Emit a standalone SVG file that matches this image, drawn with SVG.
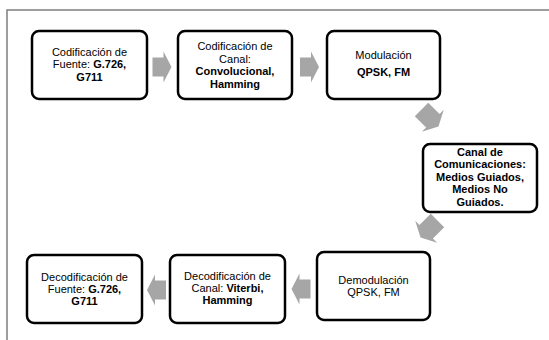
<svg xmlns="http://www.w3.org/2000/svg" width="549" height="340" viewBox="0 0 549 340">
<style>
  .box { fill: #ffffff; stroke: #000000; stroke-width: 2.5; }
  .t { font-family: "Liberation Sans", Arial, sans-serif; font-size: 11px; fill: #000000; text-anchor: middle; }
  .b { font-weight: bold; }
  .arr { fill: #a6a6a6; }
  .frame { fill: none; stroke: #7f7f7f; stroke-width: 1.5; }
</style>
<defs>
  <path id="arrowR" d="M-9.5,-9.5 L1.5,-9.5 L1.5,-15.5 L9.5,0 L1.5,15.5 L1.5,9.5 L-9.5,9.5 Z"/>
  <path id="arrowD" d="M-12,-9.5 L4,-9.5 L4,-15.5 L12,0 L4,15.5 L4,9.5 L-12,9.5 Z"/>
</defs>
<rect x="0" y="0" width="549" height="340" fill="#ffffff"/>
<path class="frame" d="M7,340 L7,10 L549,10"/>

<g id="connectors">
  <use href="#arrowR" class="arr" transform="translate(162,67)"/>
  <use href="#arrowR" class="arr" transform="translate(309.5,67)"/>
  <use href="#arrowD" class="arr" transform="translate(430,118) rotate(45)"/>
  <use href="#arrowD" class="arr" transform="translate(429,229) rotate(135)"/>
  <use href="#arrowR" class="arr" transform="translate(301,289) rotate(180)"/>
  <use href="#arrowR" class="arr" transform="translate(156.5,290) rotate(180)"/>
</g>

<g id="node1">
  <rect class="box" x="32" y="31" width="115" height="68" rx="7"/>
  <text class="t" x="89.5" y="56"><tspan x="89.5">Codificación de</tspan><tspan x="89.5" dy="12.4">Fuente: <tspan class="b">G.726,</tspan></tspan><tspan x="89.5" dy="12.4" class="b">G711</tspan></text>
</g>

<g id="node2">
  <rect class="box" x="178" y="31" width="114" height="68" rx="7"/>
  <text class="t" x="235" y="50.4"><tspan x="235">Codificación de</tspan><tspan x="235" dy="12.4">Canal:</tspan><tspan x="235" dy="12.4" class="b">Convolucional,</tspan><tspan x="235" dy="12.4" class="b">Hamming</tspan></text>
</g>

<g id="node3">
  <rect class="box" x="327" y="31" width="113" height="68" rx="7"/>
  <text class="t" x="383.5" y="59"><tspan x="383.5">Modulación</tspan><tspan x="383.5" dy="16.5" class="b">QPSK, FM</tspan></text>
</g>

<g id="node4">
  <rect class="box" x="423" y="144" width="114" height="68" rx="7"/>
  <text class="t b" x="480" y="156"><tspan x="480">Canal de</tspan><tspan x="480" dy="12.4">Comunicaciones:</tspan><tspan x="480" dy="12.4">Medios Guiados,</tspan><tspan x="480" dy="12.4">Medios No</tspan><tspan x="480" dy="12.4">Guiados.</tspan></text>
</g>

<g id="node5">
  <rect class="box" x="317" y="252" width="113" height="68" rx="7"/>
  <text class="t" x="373.5" y="283.5"><tspan x="373.5">Demodulación</tspan><tspan x="373.5" dy="12.4">QPSK, FM</tspan></text>
</g>

<g id="node6">
  <rect class="box" x="170" y="255" width="115" height="68" rx="7"/>
  <text class="t" x="227.5" y="279.6"><tspan x="227.5">Decodificación de</tspan><tspan x="227.5" dy="12.4">Canal: <tspan class="b">Viterbi,</tspan></tspan><tspan x="227.5" dy="12.4" class="b">Hamming</tspan></text>
</g>

<g id="node7">
  <rect class="box" x="27" y="255" width="115" height="68" rx="7"/>
  <text class="t" x="84.5" y="280.6"><tspan x="84.5">Decodificación de</tspan><tspan x="84.5" dy="12.4">Fuente: <tspan class="b">G.726,</tspan></tspan><tspan x="84.5" dy="12.4" class="b">G711</tspan></text>
</g>
</svg>
